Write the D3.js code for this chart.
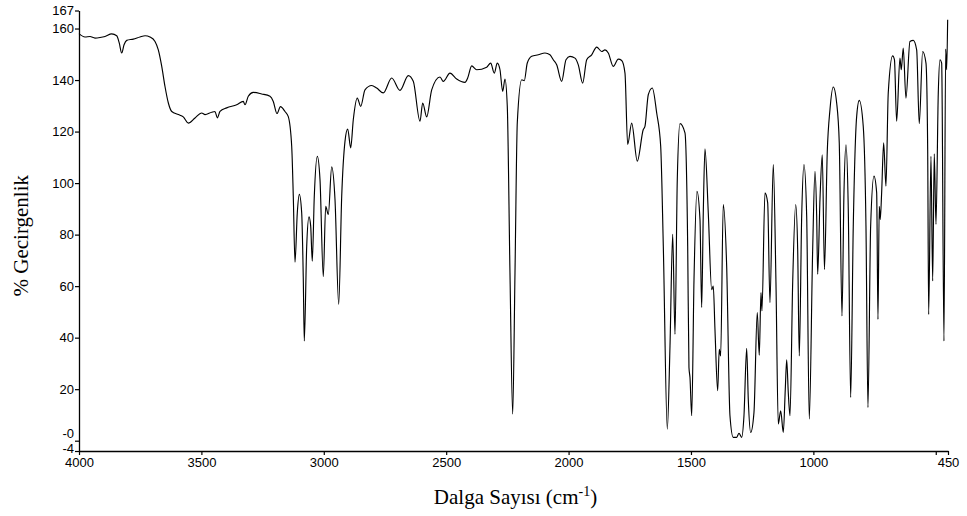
<!DOCTYPE html>
<html>
<head>
<meta charset="utf-8">
<script src="https://cdn.jsdelivr.net/npm/d3@7/dist/d3.min.js"></script>
<style>
  html, body { margin: 0; padding: 0; background: #fff; }
  svg { display: block; }
</style>
</head>
<body>
<svg id="chart" width="967" height="516"></svg>
<script>
// ---- Data ----
const wavenumbers = [4000,3975.5,3955,3934.6,3914,3893.8,3866.4,3846,3835.4,3825.6,3816,3805,3778,3751,3730,3710,3689.5,3676,3662,3648.7,3635,3621,3594,3574,3553.5,3526,3498.8,3485,3458,3444.4,3435,3424,3396.7,3355.8,3328.8,3322,3308.4,3288,3253.7,3219.8,3206.3,3191.2,3177,3158.5,3145,3131.1,3124.6,3117.6,3108.2,3100,3090.3,3083.7,3079.6,3069.8,3060.4,3053.5,3047,3038.8,3026.5,3015.5,3002,2992.2,2981.6,2967.7,2954.2,2939.1,2926.8,2913.4,2902.4,2890.1,2879.5,2863.2,2849.2,2831.7,2804.3,2783.9,2757,2722.6,2688.7,2654.8,2634.4,2607,2596,2579.7,2559.2,2525.3,2511.8,2484.5,2457.1,2423.2,2412.2,2395.8,2375.4,2334.5,2318.2,2303.5,2291.2,2280.2,2269.2,2259.8,2250.4,2239.4,2228.3,2218.9,2209.5,2191.5,2180.9,2168.7,2150.7,2123.7,2096.4,2076,2062.5,2048.6,2028.2,2010.6,1994.3,1973.8,1960.3,1942.4,1926,1905.6,1885.2,1864.8,1851.3,1837.8,1817.4,1796.9,1783,1769.6,1758.6,1742.2,1719.3,1694.8,1688,1674.4,1658,1640,1623.7,1613,1596.7,1585.7,1574.7,1565.3,1555.9,1544.9,1524.5,1513.4,1508.2,1504,1497,1487.6,1475.5,1463.2,1456.3,1449.7,1442.8,1429.3,1415.4,1408.9,1402,1391,1384.4,1378.7,1368.1,1354.2,1340.7,1327.3,1313.3,1303.9,1292.9,1283.5,1272.5,1265.9,1256.1,1242.6,1229.2,1221,1214,1210,1197.7,1186.7,1177.3,1163.8,1152.8,1143.3,1133.5,1122.8,1114.7,1109,1102.5,1095.5,1084.5,1072.2,1064.1,1057.5,1047.7,1038.4,1027.3,1016.7,1002.8,993.4,986.5,982.4,973,963.6,954.7,943.2,932.2,918.7,904.8,894.2,883.1,875,866.8,857.4,847.6,837,823.1,812.5,796.2,785.1,777,766,752.4,741.4,736.1,730.8,726.8,721.1,712.9,703.5,694.1,676.1,668.8,659.8,646.3,641,632.8,621.8,605.4,591.8,578,567.4,553.5,540,533,529,519.6,512.6,506.1,499.1,489.7,482.8,475.9,466.5,459.5,455.5,451.4];
const transmittance = [158,156.7,156.9,156.3,156.5,156.9,157.9,157.2,154.3,150.5,153.7,155.4,155.9,156.7,157.2,156.7,155,151.7,145.3,137.5,131.1,127.8,126.6,125.7,123.3,125.3,127.2,126.6,127.5,127.8,125.3,127.8,129.2,130.4,131.7,130.4,133.7,135.2,134.6,133.7,131.7,127,129.7,127.8,125.8,114.3,94.9,69.3,88.5,95.6,88.5,62.6,38.7,75.5,86.9,83.3,69.7,94.9,110.4,101.4,63.7,91,87.8,106.3,93.6,52.9,94.9,116.2,121,113.7,124.6,133,129.8,136.2,137.9,136.9,135,140.8,136,141.7,139.5,124,131.1,125.7,136.2,141.2,139.5,142.7,140.4,139.1,140.8,145.5,144,145,146.6,142.7,146.6,144,135.6,140.4,129.8,65.2,10.3,65.2,123.4,140.1,139.8,146.6,149.2,149.8,150.5,149.8,147.9,145.9,139.5,147.9,149.2,148.5,145.9,138.8,147.9,149.8,152.8,151.1,151.7,150.5,145.3,148.1,147.6,142.7,115,123.3,108.5,120.8,122,134.3,136.9,127.2,114.3,75.5,4.5,36.8,80.1,41.3,101.4,123.1,119.5,75.5,28.4,24.5,9.7,62.6,96.8,85.9,51.7,88.5,113.3,88.5,58.6,60,43.3,19.4,35.5,32.9,91.7,67.8,9.7,1.3,1.3,2.9,1.3,9.7,35.9,16.1,3.2,11,49.7,33.2,57.5,50.4,96.2,92.4,53.6,107.2,61.4,6.5,11.6,3.2,20,31.4,18.7,9.7,61.4,91.7,74.3,32.9,87.2,107.2,87.2,8.4,74.3,104.6,87.2,64.6,93.6,111,66.5,112.2,128.5,137.3,131.1,115.6,48.4,96.2,114.9,89.8,16.8,83.3,125.9,132.1,122,83.3,12.9,83.3,102.7,96.2,47.1,91,85.9,96.2,115.6,98.8,135,149.4,147.9,124,148.5,144,152.4,133,155,155.4,151.7,123.1,151.1,146.6,113,49,110.4,62,111.4,84,135,147.9,146.6,38.7,152,144,163.4];

const yTickValues = [167, 160, 140, 120, 100, 80, 60, 40, 20, 0, -4];
const yTickLabels = ["167", "160", "140", "120", "100", "80", "60", "40", "20", "-0", "-4"];
const xTickValues = [4000, 3500, 3000, 2500, 2000, 1500, 1000, 500, 450];
const xTickLabels = ["4000", "3500", "3000", "2500", "2000", "1500", "1000", "", "450"];

const yTitle = "% Gecirgenlik";
const xTitleMain = "Dalga Sayısı (cm";
const xTitleSup = "-1";
const xTitleEnd = ")";

// ---- Layout ----
const svg = d3.select("#chart");
const x = d3.scaleLinear().domain([4000, 450]).range([79, 948]);
const y = d3.scaleLinear().domain([-4, 167]).range([451, 10.5]);

const points = wavenumbers.map((w, i) => [w, transmittance[i]]);

const line = d3.line()
  .x(d => x(d[0]))
  .y(d => y(d[1]))
  .curve(d3.curveMonotoneX);

// axes
const yAxis = d3.axisLeft(y)
  .tickValues(yTickValues)
  .tickSize(4)
  .tickSizeOuter(0)
  .tickFormat((d, i) => yTickLabels[i]);
const xAxis = d3.axisBottom(x)
  .tickValues(xTickValues)
  .tickSize(4)
  .tickSizeOuter(0)
  .tickFormat((d, i) => xTickLabels[i]);

const gy = svg.append("g").attr("transform", `translate(${x(4000)},0)`).call(yAxis);
const gx = svg.append("g").attr("transform", `translate(0,${y(-4)})`).call(xAxis);

[gx, gy].forEach(g => {
  g.select(".domain").attr("stroke", "#000").attr("stroke-width", 1.3);
  g.selectAll(".tick line").attr("stroke", "#000").attr("stroke-width", 1.2);
  g.selectAll(".tick text")
    .attr("fill", "#000")
    .style("font-family", "'Liberation Sans', Arial, sans-serif")
    .style("font-size", "13px");
});
gy.selectAll(".tick text").attr("x", -5);
// nudge the two lowest labels so they clear each other and the "4000" label
gy.selectAll(".tick").filter(d => d === 0).select("text").attr("dy", "-0.22em");
gy.selectAll(".tick").filter(d => d === -4).select("text").attr("dy", "0.1em");
gx.selectAll(".tick text").attr("y", 7);

// spectrum
svg.append("path")
  .datum(points)
  .attr("fill", "none")
  .attr("stroke", "#000")
  .attr("stroke-width", 1.15)
  .attr("stroke-linejoin", "round")
  .attr("d", line);

// titles
svg.append("text")
  .attr("transform", `translate(28,${(y(167) + y(-4)) / 2 + 5}) rotate(-90)`)
  .attr("text-anchor", "middle")
  .style("font-family", "'Liberation Serif', 'Times New Roman', serif")
  .style("font-size", "21px")
  .attr("fill", "#000")
  .text(yTitle);

const xt = svg.append("text")
  .attr("x", (x(4000) + x(450)) / 2 + 2)
  .attr("y", 504)
  .attr("text-anchor", "middle")
  .style("font-family", "'Liberation Serif', 'Times New Roman', serif")
  .style("font-size", "21px")
  .attr("fill", "#000");
xt.append("tspan").text(xTitleMain);
xt.append("tspan").attr("dy", -8).style("font-size", "14px").text(xTitleSup);
xt.append("tspan").attr("dy", 8).text(xTitleEnd);
</script>
</body>
</html>
